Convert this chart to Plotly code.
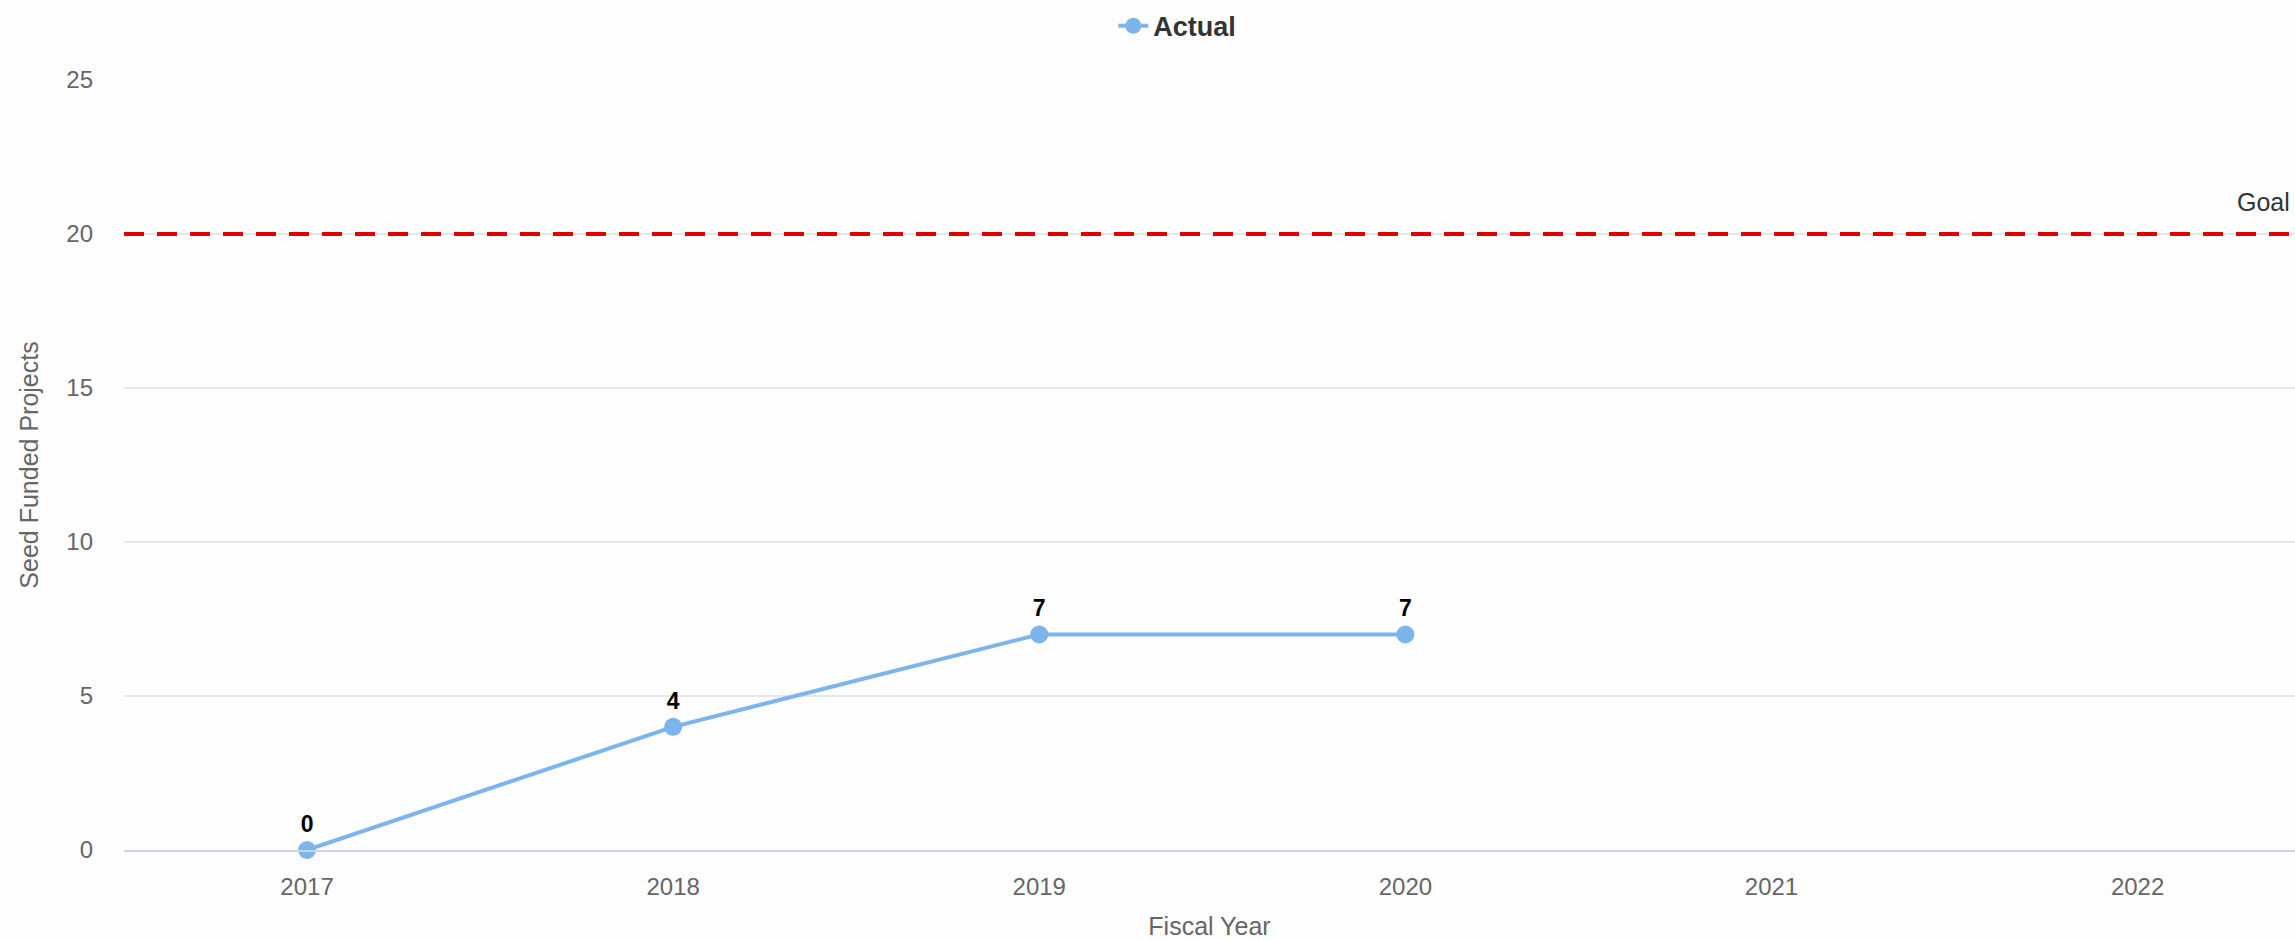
import plotly.graph_objects as go

years = ["2017", "2018", "2019", "2020", "2021", "2022"]
actual = [0, 4, 7, 7, None, None]
goal_value = 20
goal_label = "Goal"
y_ticks = [0, 5, 10, 15, 20, 25]

FONT = "Arial, 'Liberation Sans', sans-serif"

fig = go.Figure()
fig.add_trace(go.Scatter(
    x=years, y=actual, name="Actual", mode="lines+markers+text",
    line=dict(color="#7cb5ec", width=4),
    marker=dict(color="#7cb5ec", size=18),
    text=[f"<b>{v}</b>" if v is not None else "" for v in actual],
    textposition="top center",
    textfont=dict(family=FONT, size=23, color="#000000"),
    cliponaxis=False,
    hoverinfo="skip",
))

fig.add_shape(type="line", xref="paper", x0=0, x1=1, yref="y",
              y0=goal_value, y1=goal_value,
              line=dict(color="#e00000", width=4, dash="20px,13px"))
fig.add_annotation(text=goal_label, xref="paper", x=1, xanchor="right", xshift=-3,
                   yref="y", y=goal_value, yanchor="bottom", yshift=16,
                   showarrow=False, font=dict(family=FONT, size=25, color="#333333"))

fig.update_layout(
    width=2295, height=940,
    margin=dict(l=124, r=0, t=80, b=90),
    paper_bgcolor="#fdfdfd", plot_bgcolor="#fdfdfd",
    font=dict(family=FONT, color="#666666"),
    showlegend=True,
    legend=dict(orientation="h", xref="container", yref="container",
                x=0.513, xanchor="center", y=0.972, yanchor="middle",
                font=dict(family=FONT, size=27, color="#333333", weight="bold"),
                bgcolor="rgba(0,0,0,0)"),
    xaxis=dict(type="category", categoryorder="array", categoryarray=years,
               range=[-0.5, 5.43], showgrid=False, zeroline=False,
               showline=True, linecolor="#ccd6eb", linewidth=2,
               ticks="", ticklabelstandoff=14,
               tickfont=dict(family=FONT, size=24, color="#666666"),
               title=dict(text="Fiscal Year", standoff=20,
                          font=dict(family=FONT, size=25, color="#666666"))),
    yaxis=dict(range=[0, 25], tickvals=y_ticks, showgrid=True,
               gridcolor="#e6e6e6", gridwidth=2, zeroline=False, showline=False,
               ticks="", ticklabelstandoff=30,
               tickfont=dict(family=FONT, size=24, color="#666666"),
               title=dict(text="Seed Funded Projects", standoff=20,
                          font=dict(family=FONT, size=25, color="#666666"))),
)

fig.write_html("out.html", config={"displayModeBar": False},
               post_script="document.body.style.margin='0';document.body.style.overflow='hidden';")
